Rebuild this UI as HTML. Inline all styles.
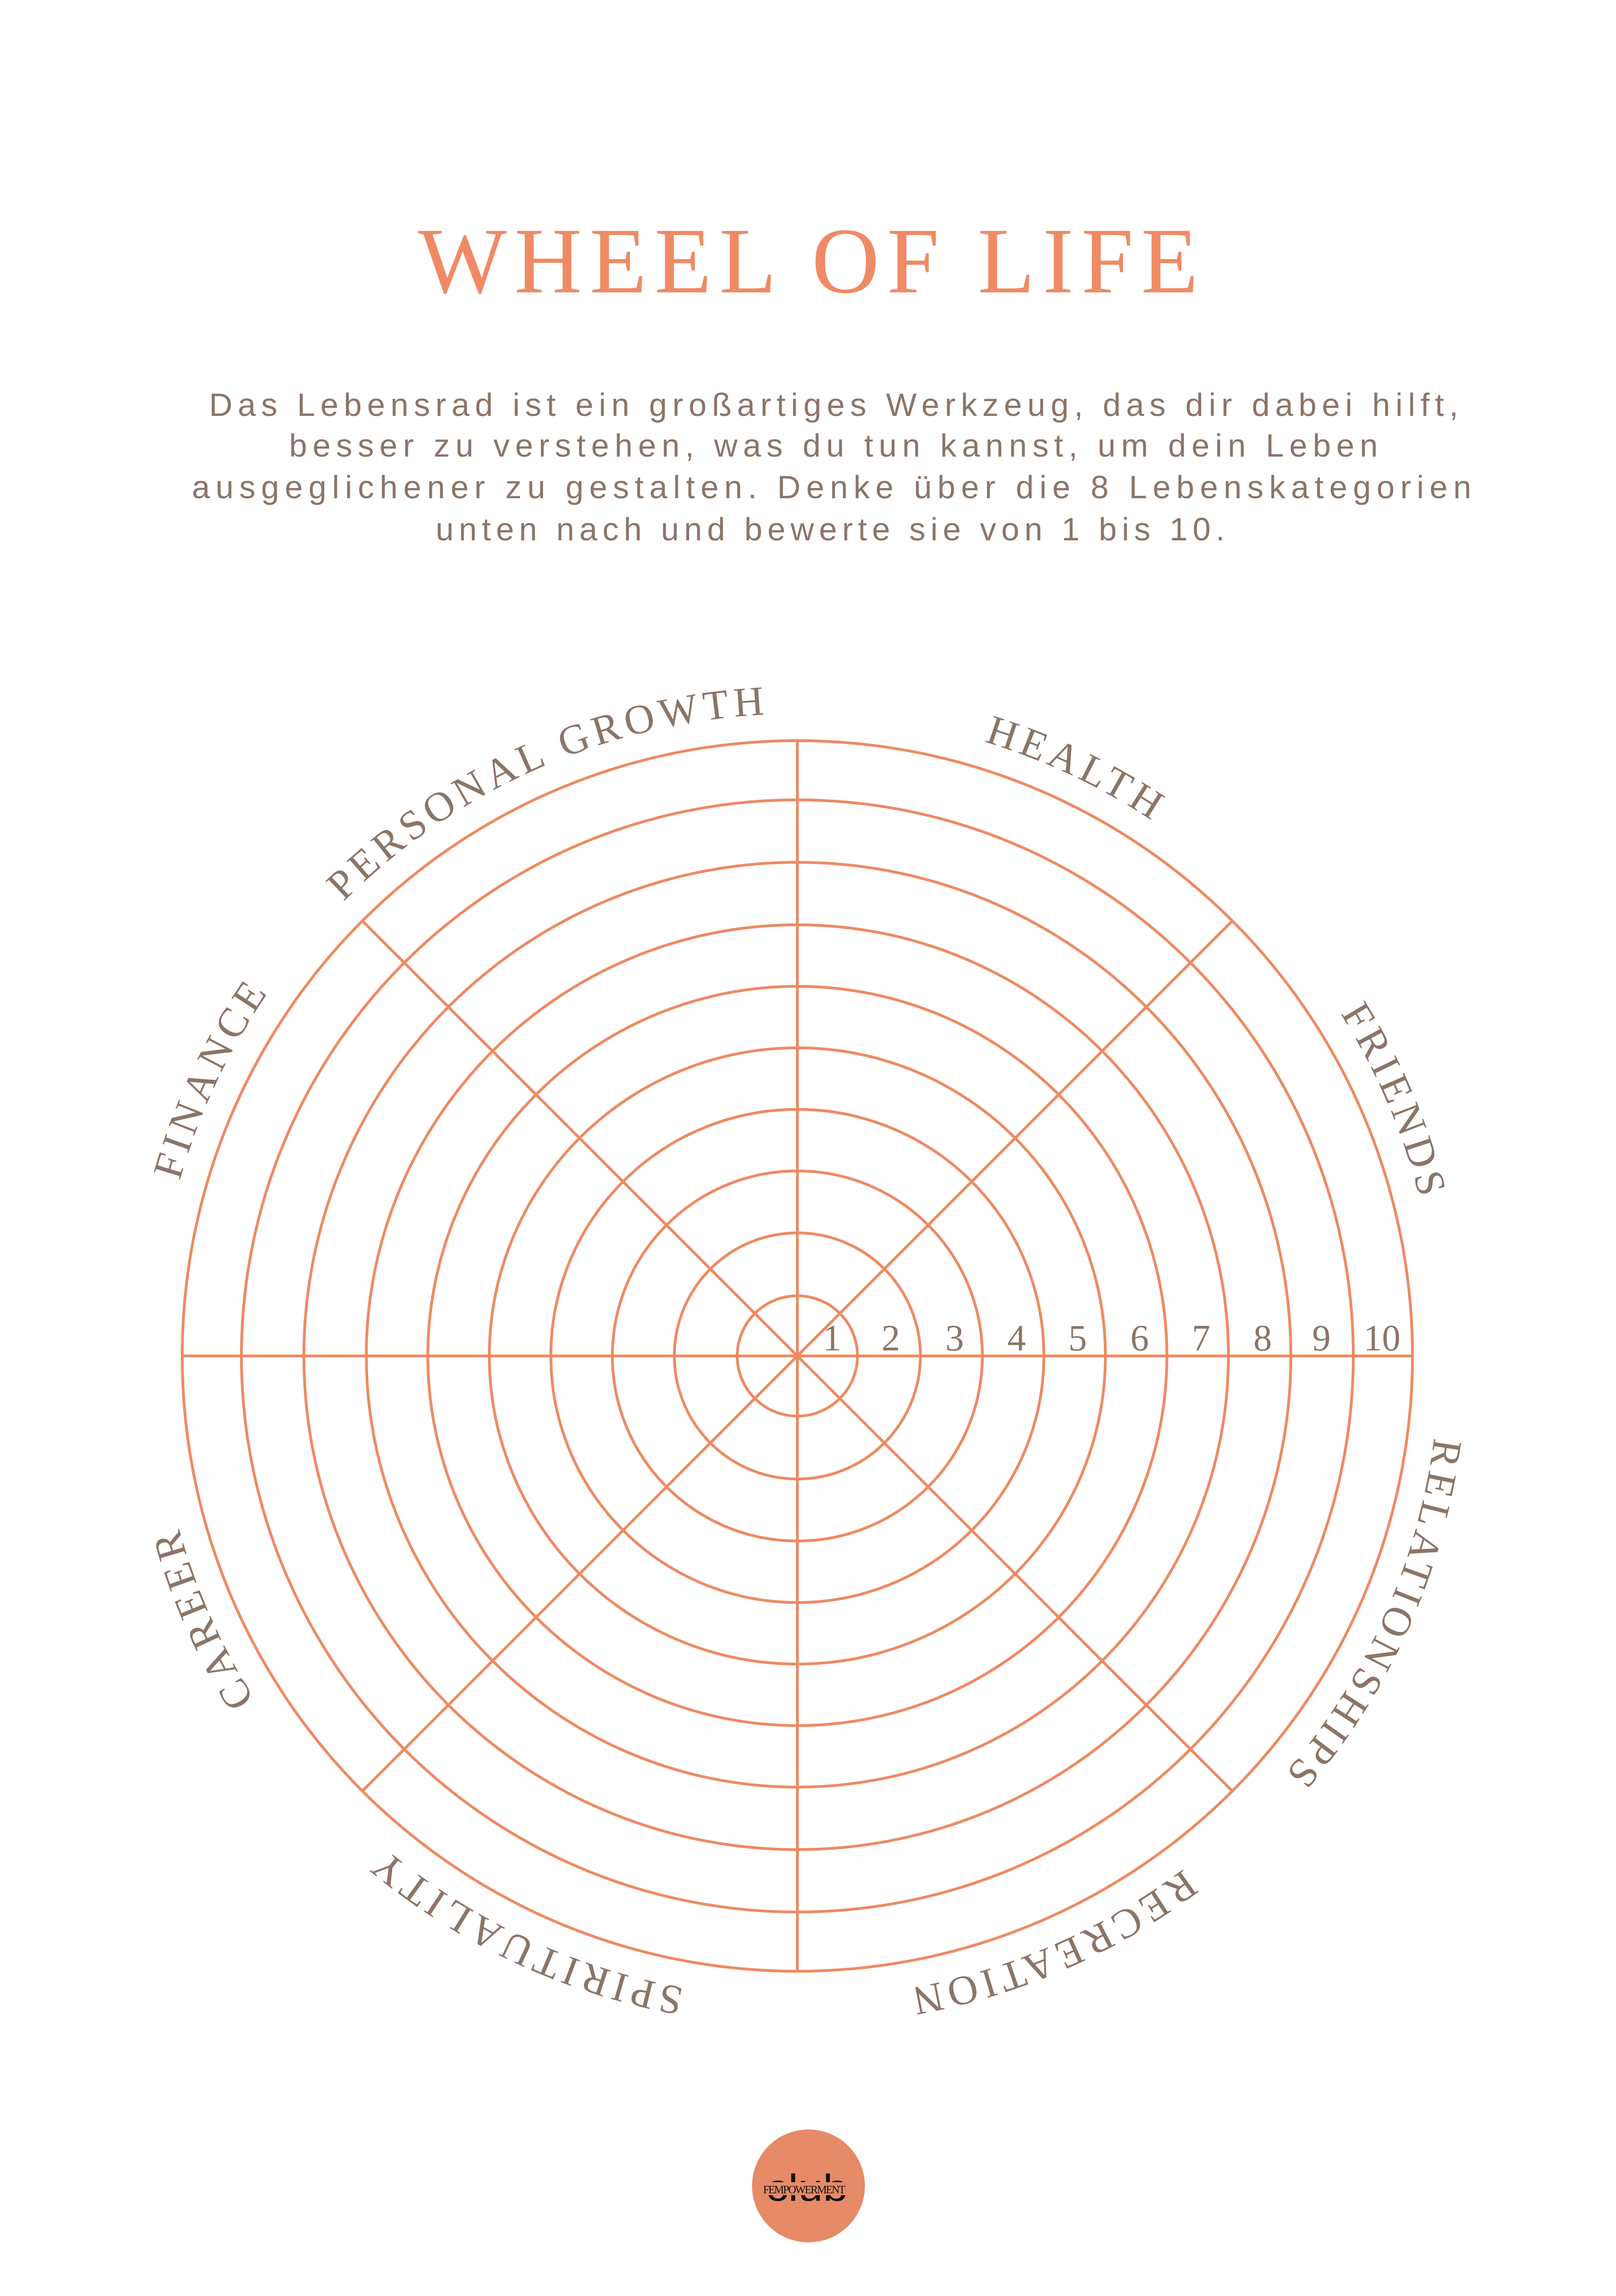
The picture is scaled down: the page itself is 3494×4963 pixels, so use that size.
<!DOCTYPE html>
<html><head><meta charset="utf-8"><style>
html,body{margin:0;padding:0;background:#fff;}
svg{display:block;}
</style></head><body>
<svg width="3494" height="4963" viewBox="0 0 3494 4963" xmlns="http://www.w3.org/2000/svg">
<rect width="3494" height="4963" fill="#fff"/>
<text x="904" y="632" font-family="Liberation Serif, serif" font-size="203" fill="#F08A64" textLength="1687" lengthAdjust="spacing">WHEEL OF LIFE</text>
<g font-family="Liberation Sans, sans-serif" font-size="70" fill="#8B7568">
<text x="452" y="899" textLength="2701" lengthAdjust="spacing">Das Lebensrad ist ein großartiges Werkzeug, das dir dabei hilft,</text>
<text x="625" y="987" textLength="2354" lengthAdjust="spacing">besser zu verstehen, was du tun kannst, um dein Leben</text>
<text x="415" y="1077" textLength="2766" lengthAdjust="spacing">ausgeglichener zu gestalten. Denke über die 8 Lebenskategorien</text>
<text x="942" y="1168" textLength="1706" lengthAdjust="spacing">unten nach und bewerte sie von 1 bis 10.</text>
</g>
<g fill="none" stroke="#EE8A62" stroke-width="6">
<circle cx="1724" cy="2931" r="130"/>
<circle cx="1724" cy="2931" r="266"/>
<circle cx="1724" cy="2931" r="400"/>
<circle cx="1724" cy="2931" r="533"/>
<circle cx="1724" cy="2931" r="666"/>
<circle cx="1724" cy="2931" r="799"/>
<circle cx="1724" cy="2931" r="932"/>
<circle cx="1724" cy="2931" r="1067"/>
<circle cx="1724" cy="2931" r="1202"/>
<circle cx="1724" cy="2931" r="1330"/>
<line x1="394" y1="2931" x2="3054" y2="2931"/>
<line x1="1724" y1="1601" x2="1724" y2="4261"/>
<line x1="783.6" y1="1990.6" x2="2664.4" y2="3871.4"/>
<line x1="2664.4" y1="1990.6" x2="783.6" y2="3871.4"/>
</g>
<g font-family="Liberation Serif, serif" font-size="80" fill="#8B7568" text-anchor="middle">
<text x="1799" y="2919">1</text>
<text x="1926" y="2919">2</text>
<text x="2064" y="2919">3</text>
<text x="2198" y="2919">4</text>
<text x="2330" y="2919">5</text>
<text x="2464" y="2919">6</text>
<text x="2597" y="2919">7</text>
<text x="2730" y="2919">8</text>
<text x="2857" y="2919">9</text>
<text x="2988" y="2919">10</text>
</g>
<defs>
<path id="lab" d="M 336,2931 A 1388 1388 0 1 1 3112,2931 A 1388 1388 0 1 1 336,2931"/>
</defs>
<g font-family="Liberation Serif, serif" font-size="90" fill="#8B7568" letter-spacing="10" text-anchor="middle">
<text><textPath href="#lab" startOffset="32.06%">HEALTH</textPath></text>
<text><textPath href="#lab" startOffset="43.6%">FRIENDS</textPath></text>
<text><textPath href="#lab" startOffset="56.7%">RELATIONSHIPS</textPath></text>
<text><textPath href="#lab" startOffset="68.5%">RECREATION</textPath></text>
<text><textPath href="#lab" startOffset="82.0%">SPIRITUALITY</textPath></text>
<text><textPath href="#lab" startOffset="93.4%">CAREER</textPath></text>
<text><textPath href="#lab" startOffset="7.03%">FINANCE</textPath></text>
<text><textPath href="#lab" startOffset="18.4%">PERSONAL GROWTH</textPath></text>
</g>
<circle cx="1748" cy="4725" r="122" fill="#E68A67"/>
<text x="1656" y="4757" font-family="Liberation Sans, sans-serif" font-size="82" fill="#111" textLength="177" lengthAdjust="spacingAndGlyphs">club</text>
<rect x="1648" y="4717" width="182" height="28" fill="#E68A67"/>
<text x="1650" y="4741" font-family="Liberation Serif, serif" font-size="24" fill="#111" textLength="178" lengthAdjust="spacing">FEMPOWERMENT</text>
</svg>
</body></html>
